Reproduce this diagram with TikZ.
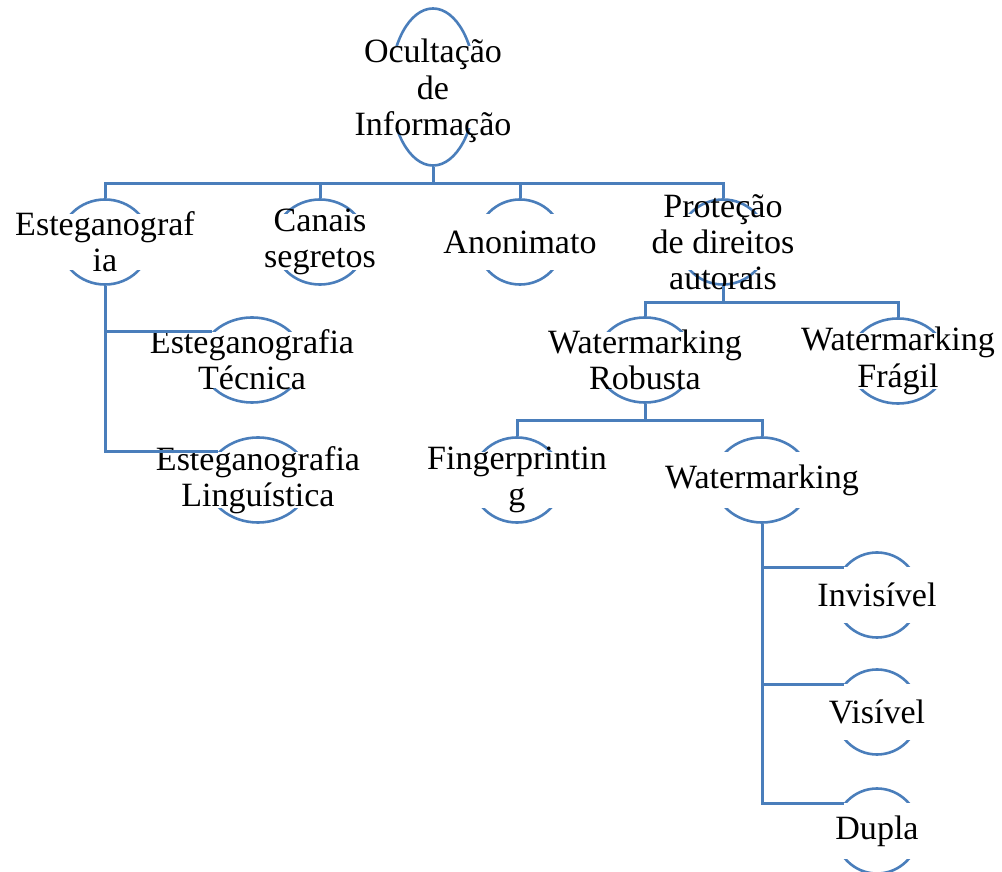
\documentclass[tikz,border=0pt]{standalone}
\usepackage{fontspec}
\setmainfont{Liberation Serif}
\usepackage{tikz}
\usetikzlibrary{shapes.geometric, positioning}

\definecolor{azul}{RGB}{74,126,187}

\tikzset{
  oval/.style={ellipse, draw=azul, line width=0.065cm, minimum width=2.2cm, minimum height=2.125cm, inner sep=0pt},
  faixa/.style={fill=white, minimum width=2.8cm, minimum height=1.38cm, inner sep=0pt},
  rotulo/.style={align=center, inner sep=0pt, font=\fontsize{24.2}{25.8}\selectfont},
  liga/.style={draw=azul, line width=0.075cm}
}

\begin{document}
\begin{tikzpicture}[x=0.025cm, y=-0.025cm]
  \useasboundingbox (0,0) rectangle (1002,872);

  % raiz
  \node[oval, minimum width=2.125cm, minimum height=3.925cm] (raiz) at (433,87) {};
  \node[faixa, minimum width=2.5cm, minimum height=2.025cm] (raiz-f) at (raiz) {};
  \node[rotulo] (raiz-t) at ([yshift=-0.1cm]raiz.center) {Ocultação\\de\\Informação};

  % demais elipses
  \foreach \nome/\x/\y/\larg/\texto in {
      esteg/105/242/2.25/{Esteganograf\\ia},
      canais/320/242/2.3/{Canais\\segretos},
      anon/520/242/2.15/{Anonimato},
      prot/723/242/2.2/{Proteção\\de direitos\\autorais},
      tec/252/360/2.55/{Esteganografia\\Técnica},
      ling/258/480/2.55/{Esteganografia\\Linguística},
      robusta/645/360/2.45/{Watermarking\\Robusta},
      fragil/898/361/2.45/{Watermarking\\Frágil},
      finger/517/480/2.25/{Fingerprintin\\g},
      water/762/480/2.4/{Watermarking},
      invis/877/595/2.1/{Invisível},
      vis/877/712/2.1/{Visível},
      dupla/877/831/2.1/{Dupla}} {
    \node[oval, minimum width=\larg cm] (\nome) at (\x,\y) {};
    \node[faixa] (\nome-f) at (\nome) {};
    \node[rotulo] (\nome-t) at (\nome) {\texto};
  }

  \coordinate[below=0.425cm of raiz] (bus1);
  \coordinate[below=0.425cm of prot] (bus2);
  \coordinate[below=0.425cm of robusta] (bus3);

  \draw[liga] (raiz.south) -- (bus1);
  \draw[liga] (esteg.north) |- (bus1) -| (prot.north);
  \draw[liga] (canais.north) -- (canais.north |- bus1);
  \draw[liga] (anon.north) -- (anon.north |- bus1);

  \draw[liga] (esteg.south) |- (tec.145);
  \draw[liga] (esteg.south) |- (ling.145);

  \draw[liga] (prot.south) -- (bus2);
  \draw[liga] (robusta.north) |- (bus2) -| (fragil.north);

  \draw[liga] (robusta.south) -- (bus3);
  \draw[liga] (finger.north) |- (bus3) -| (water.north);

  \draw[liga] (water.south) |- (invis.140);
  \draw[liga] (water.south) |- (vis.140);
  \draw[liga] (water.south) |- (dupla.140);
\end{tikzpicture}
\end{document}
